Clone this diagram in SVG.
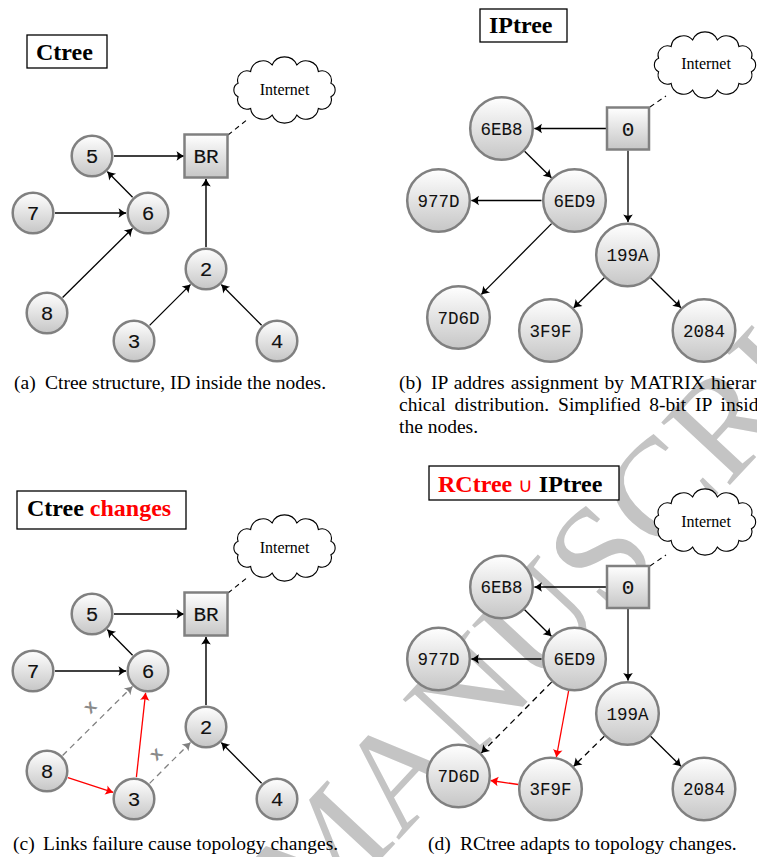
<svg xmlns="http://www.w3.org/2000/svg" xmlns:xlink="http://www.w3.org/1999/xlink" width="757" height="857" viewBox="0 0 757 857">
<defs>
  <linearGradient id="g" x1="0" y1="0" x2="0" y2="1">
    <stop offset="0" stop-color="#ffffff"/>
    <stop offset="1" stop-color="#c6c6c6"/>
  </linearGradient>
  <marker id="ak" viewBox="-9 -6 10 12" refX="0" refY="0" markerWidth="10" markerHeight="12" markerUnits="userSpaceOnUse" orient="auto">
    <path d="M0.5,0 C-2,-1 -5,-3 -7.5,-4.8 C-6,-2 -6,2 -7.5,4.8 C-5,3 -2,1 0.5,0 Z" fill="#000"/>
  </marker>
  <marker id="ag" viewBox="-9 -6 10 12" refX="0" refY="0" markerWidth="10" markerHeight="12" markerUnits="userSpaceOnUse" orient="auto">
    <path d="M0.5,0 C-2,-1 -5,-3 -7.5,-4.8 C-6,-2 -6,2 -7.5,4.8 C-5,3 -2,1 0.5,0 Z" fill="#808080"/>
  </marker>
  <marker id="ar" viewBox="-9 -6 10 12" refX="0" refY="0" markerWidth="10" markerHeight="12" markerUnits="userSpaceOnUse" orient="auto">
    <path d="M0.5,0 C-2,-1 -5,-3 -7.5,-4.8 C-6,-2 -6,2 -7.5,4.8 C-5,3 -2,1 0.5,0 Z" fill="#ff0000"/>
  </marker>
  <path id="cloud" d="M46.4,-6.7 A7.4 7.4 0 0 1 46.4,6.7 A9.4 9.4 0 0 1 33.9,18.4 A12.4 12.4 0 0 1 12.4,25.1 A13.6 13.6 0 0 1 -12.4,25.1 A12.4 12.4 0 0 1 -33.9,18.4 A9.4 9.4 0 0 1 -46.4,6.7 A7.4 7.4 0 0 1 -46.4,-6.7 A9.4 9.4 0 0 1 -33.9,-18.4 A12.4 12.4 0 0 1 -12.4,-25.1 A13.6 13.6 0 0 1 12.4,-25.1 A12.4 12.4 0 0 1 33.9,-18.4 A9.4 9.4 0 0 1 46.4,-6.7 Z"/>
</defs>
<style>
  .n circle, .n rect { fill: url(#g); stroke: #808080; stroke-width: 2.5; }
  .n text { font-family: "Liberation Mono", "Courier New", monospace; font-size: 21px; text-anchor: middle; fill: #111; stroke: #111; stroke-width: 0.12; }
  .n4 text { font-size: 17.5px; stroke-width: 0.05; }
  .cl use { fill: #fff; stroke: #000; stroke-width: 1.1; }
  .cl text { font-family: "Liberation Serif", serif; font-size: 16px; text-anchor: middle; fill: #000; }
  .t rect { fill: #fff; stroke: #000; stroke-width: 1.3; }
  .t text { font-family: "Liberation Serif", "DejaVu Serif", serif; font-size: 24px; font-weight: bold; fill: #000; }
  .t .cup { font-family: "DejaVu Sans", sans-serif; font-weight: normal; font-size: 20px; }
  .e line { stroke: #000; stroke-width: 1.3; fill: none; marker-end: url(#ak); }
  .e line.d { stroke-dasharray: 6 4.5; }
  .e line.g { stroke: #808080; stroke-dasharray: 6 4.5; marker-end: url(#ag); }
  .e line.r { stroke: #ff0000; marker-end: url(#ar); }
  .e line.k { stroke: #333; stroke-width: 1.8; }
  .e line.i { marker-end: none; stroke-dasharray: 5 4; stroke-width: 1.1; }
  .cap { font-family: "Liberation Serif", serif; font-size: 19.5px; fill: #000; }
  .wm { font-family: "Liberation Serif", serif; font-size: 142px; fill: #c4c4c4; }
  .x { font-family: "Liberation Mono", "Courier New", monospace; font-size: 18px; font-weight: bold; fill: #8a8a8a; text-anchor: middle; }
</style>
<rect x="0" y="0" width="757" height="857" fill="#fff"/>

<text class="wm" transform="translate(312,933) rotate(-47)">MANUSCRIPT</text>

<!-- Titles -->
<g id="title-a" class="t"><rect x="27" y="35" width="80" height="33"/><text x="36" y="60">Ctree</text></g>
<g id="title-b" class="t"><rect x="480" y="9" width="87" height="33"/><text x="489" y="33">IPtree</text></g>
<g id="title-c" class="t"><rect x="17" y="491" width="169" height="38"/><text x="27" y="516">Ctree <tspan fill="#ff0000">changes</tspan></text></g>
<g id="title-d" class="t"><rect x="429" y="466" width="190" height="34"/><text x="438" y="492"><tspan fill="#ff0000">RCtree <tspan class="cup">∪</tspan></tspan> IPtree</text></g>

<!-- Clouds -->
<g id="cloud-a" class="cl"><use xlink:href="#cloud" x="284.5" y="90"/><text x="284.5" y="95">Internet</text></g>
<g id="cloud-b" class="cl"><use xlink:href="#cloud" x="705" y="65"/><text x="706" y="69">Internet</text></g>
<g id="cloud-c" class="cl"><use xlink:href="#cloud" x="284.5" y="548"/><text x="284.5" y="553">Internet</text></g>
<g id="cloud-d" class="cl"><use xlink:href="#cloud" x="705" y="522"/><text x="706" y="527">Internet</text></g>

<!-- Connectors -->
<g id="connectors" class="e">
  <!-- panel a -->
  <line class="i" x1="228" y1="135" x2="248" y2="119"/>
  <line x1="114" y1="156" x2="184" y2="156"/>
  <line x1="132.6" y1="197.3" x2="107.4" y2="171.7"/>
  <line x1="55" y1="213" x2="126" y2="213"/>
  <line x1="62.6" y1="297.5" x2="132.4" y2="228.5"/>
  <line class="k" x1="206" y1="247" x2="206" y2="179"/>
  <line x1="149.6" y1="325.4" x2="190.4" y2="284.6"/>
  <line x1="261.6" y1="325.3" x2="221.4" y2="284.7"/>
  <!-- panel b -->
  <line class="i" x1="650" y1="107" x2="666" y2="96"/>
  <line x1="606" y1="128.5" x2="534.5" y2="128.5"/>
  <line x1="524.6" y1="151.3" x2="551.4" y2="177.7"/>
  <line x1="541.5" y1="200.5" x2="471.5" y2="200.5"/>
  <line x1="628" y1="150.5" x2="628" y2="222"/>
  <line x1="551.6" y1="223.6" x2="481.4" y2="294.4"/>
  <line x1="604.3" y1="277.8" x2="573.7" y2="307.7"/>
  <line x1="650.6" y1="277.8" x2="680.9" y2="307.7"/>
  <!-- panel c -->
  <line class="i" x1="228" y1="593" x2="248" y2="577"/>
  <line x1="114" y1="614" x2="184" y2="614"/>
  <line x1="132.6" y1="655.3" x2="107.4" y2="629.7"/>
  <line x1="55" y1="671" x2="126" y2="671"/>
  <line class="g" x1="62.6" y1="755.5" x2="132.4" y2="686.5"/>
  <line class="k" x1="206" y1="705" x2="206" y2="637"/>
  <line class="g" x1="149.6" y1="783.4" x2="190.4" y2="742.6"/>
  <line x1="261.6" y1="783.3" x2="221.4" y2="742.7"/>
  <line class="r" x1="67.9" y1="777.7" x2="113.1" y2="792.3"/>
  <line class="r" x1="136.4" y1="777.1" x2="145.6" y2="692.9"/>
  <text class="x" transform="translate(90.5,707.5) rotate(-45)" y="5">x</text>
  <text class="x" transform="translate(156.5,754.5) rotate(-45)" y="5">x</text>
  <!-- panel d -->
  <line class="i" x1="650" y1="566" x2="666" y2="555"/>
  <line x1="606" y1="587" x2="534.5" y2="587"/>
  <line x1="524.6" y1="609.8" x2="551.4" y2="636.2"/>
  <line x1="541.5" y1="659" x2="471.5" y2="659"/>
  <line x1="628" y1="609" x2="628" y2="680.5"/>
  <line class="d" x1="551.6" y1="682.1" x2="481.4" y2="752.9"/>
  <line class="d" x1="604.3" y1="736.3" x2="573.7" y2="766.2"/>
  <line x1="650.6" y1="736.3" x2="680.9" y2="766.2"/>
  <line class="r" x1="568.6" y1="691" x2="556.4" y2="757"/>
  <line class="r" x1="518.3" y1="784.5" x2="490.7" y2="780.5"/>
</g>

<!-- Panel a nodes -->
<g id="a-BR" class="n"><rect x="184.5" y="134.5" width="43" height="43"/><text x="206" y="163">BR</text></g>
<g id="a-5" class="n"><circle cx="92" cy="156" r="20.3"/><text x="92" y="163">5</text></g>
<g id="a-6" class="n"><circle cx="148" cy="213" r="20.3"/><text x="148" y="220">6</text></g>
<g id="a-7" class="n"><circle cx="33" cy="213" r="20.3"/><text x="33" y="220">7</text></g>
<g id="a-8" class="n"><circle cx="47" cy="313" r="20.3"/><text x="47" y="320">8</text></g>
<g id="a-2" class="n"><circle cx="206" cy="269" r="20.3"/><text x="206" y="276">2</text></g>
<g id="a-3" class="n"><circle cx="134" cy="341" r="20.3"/><text x="134" y="348">3</text></g>
<g id="a-4" class="n"><circle cx="277" cy="341" r="20.3"/><text x="277" y="348">4</text></g>

<!-- Panel b nodes -->
<g id="b-0" class="n"><rect x="607" y="107.5" width="42" height="42"/><text x="628" y="135.5">0</text></g>
<g id="b-6EB8" class="n n4"><circle cx="501.5" cy="128.5" r="31.3"/><text x="501.5" y="134.5">6EB8</text></g>
<g id="b-6ED9" class="n n4"><circle cx="574.5" cy="200.5" r="31.3"/><text x="574.5" y="206.5">6ED9</text></g>
<g id="b-977D" class="n n4"><circle cx="438.5" cy="200.5" r="31.3"/><text x="438.5" y="206.5">977D</text></g>
<g id="b-199A" class="n n4"><circle cx="627.5" cy="255" r="31.3"/><text x="627.5" y="261">199A</text></g>
<g id="b-7D6D" class="n n4"><circle cx="458.5" cy="317.5" r="31.3"/><text x="458.5" y="323.5">7D6D</text></g>
<g id="b-3F9F" class="n n4"><circle cx="550.5" cy="330.5" r="31.3"/><text x="550.5" y="336.5">3F9F</text></g>
<g id="b-2084" class="n n4"><circle cx="704" cy="330.5" r="31.3"/><text x="704" y="336.5">2084</text></g>

<!-- Panel c nodes -->
<g id="c-BR" class="n"><rect x="184.5" y="592.5" width="43" height="43"/><text x="206" y="621">BR</text></g>
<g id="c-5" class="n"><circle cx="92" cy="614" r="20.3"/><text x="92" y="621">5</text></g>
<g id="c-6" class="n"><circle cx="148" cy="671" r="20.3"/><text x="148" y="678">6</text></g>
<g id="c-7" class="n"><circle cx="33" cy="671" r="20.3"/><text x="33" y="678">7</text></g>
<g id="c-8" class="n"><circle cx="47" cy="771" r="20.3"/><text x="47" y="778">8</text></g>
<g id="c-2" class="n"><circle cx="206" cy="727" r="20.3"/><text x="206" y="734">2</text></g>
<g id="c-3" class="n"><circle cx="134" cy="799" r="20.3"/><text x="134" y="806">3</text></g>
<g id="c-4" class="n"><circle cx="277" cy="799" r="20.3"/><text x="277" y="806">4</text></g>

<!-- Panel d nodes -->
<g id="d-0" class="n"><rect x="607" y="566" width="42" height="42"/><text x="628" y="594">0</text></g>
<g id="d-6EB8" class="n n4"><circle cx="501.5" cy="587" r="31.3"/><text x="501.5" y="593">6EB8</text></g>
<g id="d-6ED9" class="n n4"><circle cx="574.5" cy="659" r="31.3"/><text x="574.5" y="665">6ED9</text></g>
<g id="d-977D" class="n n4"><circle cx="438.5" cy="659" r="31.3"/><text x="438.5" y="665">977D</text></g>
<g id="d-199A" class="n n4"><circle cx="627.5" cy="713.5" r="31.3"/><text x="627.5" y="719.5">199A</text></g>
<g id="d-7D6D" class="n n4"><circle cx="458.5" cy="776" r="31.3"/><text x="458.5" y="782">7D6D</text></g>
<g id="d-3F9F" class="n n4"><circle cx="550.5" cy="789" r="31.3"/><text x="550.5" y="795">3F9F</text></g>
<g id="d-2084" class="n n4"><circle cx="704" cy="789" r="31.3"/><text x="704" y="795">2084</text></g>

<!-- Captions -->
<text class="cap" y="389"><tspan x="14">(a)</tspan><tspan x="45">Ctree structure, ID inside the nodes.</tspan></text>
<text class="cap" y="389" word-spacing="1.2"><tspan x="399">(b)</tspan><tspan x="431">IP addres assignment by MATRIX hierar</tspan></text>
<text class="cap" x="399" y="411" word-spacing="4">chical distribution. Simplified 8-bit IP insid</text>
<text class="cap" x="399" y="433">the nodes.</text>
<text class="cap" y="850"><tspan x="13">(c)</tspan><tspan x="43">Links failure cause topology changes.</tspan></text>
<text class="cap" y="850"><tspan x="428">(d)</tspan><tspan x="460">RCtree adapts to topology changes.</tspan></text>
</svg>
